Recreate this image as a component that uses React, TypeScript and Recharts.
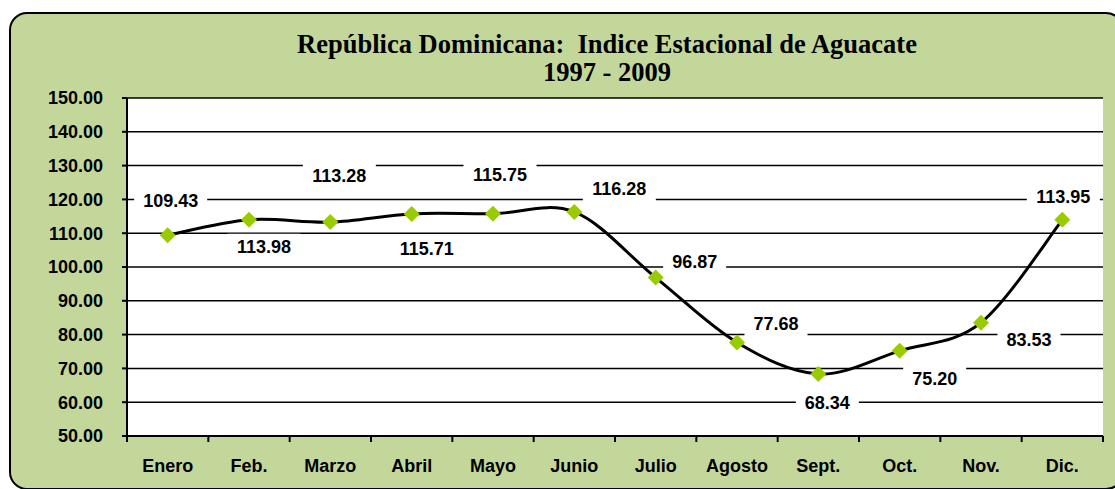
import { CartesianGrid, LabelList, Line, LineChart, XAxis, YAxis } from 'recharts';

const months = ['Enero', 'Feb.', 'Marzo', 'Abril', 'Mayo', 'Junio', 'Julio', 'Agosto', 'Sept.', 'Oct.', 'Nov.', 'Dic.'];
const indexValues = [109.43, 113.98, 113.28, 115.71, 115.75, 116.28, 96.87, 77.68, 68.34, 75.2, 83.53, 113.95];
const yTicks = [50, 60, 70, 80, 90, 100, 110, 120, 130, 140, 150];

// where each value label sits relative to its marker
const labelDx = [3, 15, 9, 15, 7, 45, 39, 39, 9, 35, 48, 1];
const labelDy = [-34, 27, -46, 35, -39, -23, -16, -18, 29, 28, 17, -23];

const W = 1115;
const H = 489;
const PLOT_LEFT = 127;
const PLOT_RIGHT = 1103;
const PLOT_TOP = 98;
const PLOT_BOTTOM = 436;
const BAND = (PLOT_RIGHT - PLOT_LEFT) / months.length;
const FONT = '"Liberation Sans", Arial, sans-serif';

const data = months.map((m, i) => ({ month: m, value: indexValues[i] }));

// Excel-like smoothing (Catmull-Rom through the points)
function excelCurve(context: any) {
  let pts: number[][] = [];
  return {
    areaStart() {},
    areaEnd() {},
    lineStart() {
      pts = [];
    },
    point(x: number, y: number) {
      pts.push([+x, +y]);
    },
    lineEnd() {
      if (!pts.length) return;
      context.moveTo(pts[0][0], pts[0][1]);
      for (let i = 0; i < pts.length - 1; i++) {
        const p0 = pts[i - 1] || pts[i];
        const p1 = pts[i];
        const p2 = pts[i + 1];
        const p3 = pts[i + 2] || p2;
        context.bezierCurveTo(
          p1[0] + (p2[0] - p0[0]) / 6,
          p1[1] + (p2[1] - p0[1]) / 6,
          p2[0] - (p3[0] - p1[0]) / 6,
          p2[1] - (p3[1] - p1[1]) / 6,
          p2[0],
          p2[1],
        );
      }
    },
  };
}

const Diamond = (props: any) => {
  const { cx, cy } = props;
  if (cx == null || cy == null) return null;
  const r = 8;
  return (
    <polygon
      points={`${cx},${cy - r} ${cx + r},${cy} ${cx},${cy + r} ${cx - r},${cy}`}
      fill="#99CC00"
    />
  );
};

const ValueLabel = (props: any) => {
  const { x, y, index, value } = props;
  const text = Number(value).toFixed(2);
  const cx = x + labelDx[index];
  const cy = y + labelDy[index];
  const w = (text.length - 1) * 10 + 5 + 18;
  return (
    <g>
      <rect x={cx - w / 2} y={cy - 13} width={w} height={26} fill="#fff" />
      <text
        x={cx}
        y={cy}
        textAnchor="middle"
        dominantBaseline="central"
        fontFamily={FONT}
        fontWeight="bold"
        fontSize={18}
        fill="#000"
      >
        {text}
      </text>
    </g>
  );
};

const MonthTick = (props: any) => {
  const { x, index, payload } = props;
  const left = x - BAND / 2;
  return (
    <g>
      <line x1={left} y1={PLOT_BOTTOM} x2={left} y2={PLOT_BOTTOM + 6} stroke="#000" strokeWidth={2} />
      {index === months.length - 1 && (
        <line x1={x + BAND / 2} y1={PLOT_BOTTOM} x2={x + BAND / 2} y2={PLOT_BOTTOM + 6} stroke="#000" strokeWidth={2} />
      )}
      <text
        x={x}
        y={PLOT_BOTTOM + 30}
        textAnchor="middle"
        dominantBaseline="central"
        fontFamily={FONT}
        fontWeight="bold"
        fontSize={18}
        fill="#000"
      >
        {payload.value}
      </text>
    </g>
  );
};

export default function App() {
  return (
    <div style={{ position: 'absolute', left: 0, top: 0, width: W, height: H, overflow: 'hidden' }}>
      <div
        style={{
          position: 'absolute',
          left: 9,
          top: 12,
          width: W,
          height: H - 11,
          boxSizing: 'border-box',
          border: '2px solid #000',
          borderRadius: 18,
          background: '#C4D79B',
        }}
      />
      <div
        style={{
          position: 'absolute',
          left: 257,
          top: 30,
          width: 700,
          textAlign: 'center',
          fontFamily: '"Liberation Serif", "Times New Roman", serif',
          fontWeight: 'bold',
          fontSize: 26.5,
          lineHeight: '28px',
          color: '#000',
        }}
      >
        <div>República Dominicana:&nbsp; Indice Estacional de Aguacate</div>
        <div>1997 - 2009</div>
      </div>
      <div style={{ position: 'absolute', left: 0, top: 0 }}>
        <LineChart
          width={W}
          height={H}
          data={data}
          margin={{ top: PLOT_TOP, right: W - PLOT_RIGHT, left: PLOT_LEFT - 60, bottom: H - PLOT_BOTTOM - 30 }}
        >
          <CartesianGrid vertical={false} stroke="#000" strokeWidth={1.5} fill="#fff" fillOpacity={1} />
          <XAxis
            dataKey="month"
            height={30}
            interval={0}
            padding={{ left: BAND / 2, right: BAND / 2 }}
            axisLine={{ stroke: '#000', strokeWidth: 2 }}
            tickLine={false}
            tick={<MonthTick />}
          />
          <YAxis
            width={60}
            domain={[50, 150]}
            ticks={yTicks}
            interval={0}
            tickFormatter={(v: number) => v.toFixed(2)}
            axisLine={{ stroke: '#000', strokeWidth: 2 }}
            tickLine={{ stroke: '#000', strokeWidth: 2 }}
            tickSize={5}
            tickMargin={19}
            tick={{ fill: '#000', fontFamily: FONT, fontWeight: 'bold', fontSize: 18 }}
          />
          <Line
            dataKey="value"
            type={excelCurve as any}
            stroke="#000"
            strokeWidth={3}
            dot={<Diamond />}
            activeDot={false}
            isAnimationActive={false}
          >
            <LabelList dataKey="value" content={<ValueLabel />} />
          </Line>
        </LineChart>
      </div>
    </div>
  );
}
